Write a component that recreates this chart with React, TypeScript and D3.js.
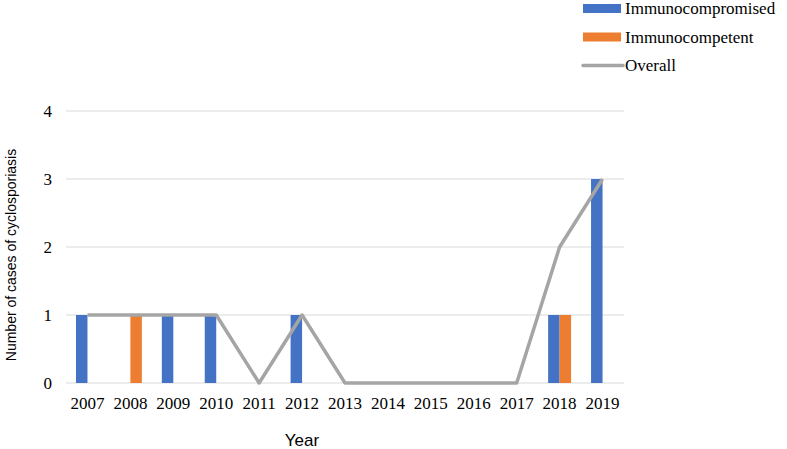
import * as d3 from "d3";
import { useEffect, useRef } from "react";

const years = ["2007", "2008", "2009", "2010", "2011", "2012", "2013", "2014", "2015", "2016", "2017", "2018", "2019"];
const immunocompromised = [1, 0, 1, 1, 0, 1, 0, 0, 0, 0, 0, 1, 3];
const immunocompetent = [0, 1, 0, 0, 0, 0, 0, 0, 0, 0, 0, 1, 0];
const overall = [1, 1, 1, 1, 0, 1, 0, 0, 0, 0, 0, 2, 3];
const yTicks = [0, 1, 2, 3, 4];

const App = () => {
  const width = 787;
  const height = 449;
  const margin = { top: 111, bottom: 66, right: 163, left: 66 };
  const svgElementRef = useRef(null);

  useEffect(() => {
    if (svgElementRef.current) {
      const svg = d3.select(svgElementRef.current);
      svg.selectAll("*").remove();

      const plotWidth = width - margin.left - margin.right;
      const plotHeight = height - margin.top - margin.bottom;
      const serif = "Liberation Serif, DejaVu Serif, serif";
      const sans = "Liberation Sans, Arial, sans-serif";
      const blue = "#4472C4";
      const orange = "#ED7D31";
      const gray = "#A5A5A5";

      const x = d3.scaleBand(years, [0, plotWidth]);
      const groupWidth = x.bandwidth() * 0.535;
      const sub = d3.scaleBand(["a", "b"], [0, groupWidth]);
      const y = d3.scaleLinear([0, 4], [plotHeight, 0]);

      const plotArea = svg
        .append("g")
        .attr("transform", `translate(${margin.left}, ${margin.top})`);

      // gridlines
      plotArea
        .append("g")
        .selectAll("line")
        .data(yTicks)
        .join("line")
        .attr("x1", 0)
        .attr("x2", plotWidth)
        .attr("y1", (d) => y(d))
        .attr("y2", (d) => y(d))
        .attr("stroke", "#D9D9D9")
        .attr("stroke-width", 1.2);

      plotArea
        .append("g")
        .selectAll("text")
        .data(yTicks)
        .join("text")
        .attr("x", -14)
        .attr("y", (d) => y(d) + 6)
        .attr("text-anchor", "end")
        .style("font-family", serif)
        .style("font-size", "17px")
        .text((d) => d);

      plotArea
        .append("g")
        .selectAll("text")
        .data(years)
        .join("text")
        .attr("x", (d) => x(d) + x.bandwidth() / 2)
        .attr("y", plotHeight + 26)
        .attr("text-anchor", "middle")
        .style("font-family", serif)
        .style("font-size", "17px")
        .text((d) => d);

      const series = [
        { key: "a", values: immunocompromised, color: blue },
        { key: "b", values: immunocompetent, color: orange },
      ];

      series.forEach((s) => {
        plotArea
          .append("g")
          .selectAll("rect")
          .data(years.map((yr, i) => ({ yr, v: s.values[i] })).filter((d) => d.v > 0))
          .join("rect")
          .attr("x", (d) => x(d.yr) + (x.bandwidth() - groupWidth) / 2 + sub(s.key))
          .attr("y", (d) => y(d.v))
          .attr("width", sub.bandwidth())
          .attr("height", (d) => plotHeight - y(d.v))
          .attr("fill", s.color);
      });

      const line = d3
        .line()
        .x((d, i) => x(years[i]) + x.bandwidth() / 2)
        .y((d) => y(d));

      plotArea
        .append("path")
        .datum(overall)
        .attr("d", line)
        .attr("fill", "none")
        .attr("stroke", gray)
        .attr("stroke-width", 3.5)
        .attr("stroke-linejoin", "round");

      // axis titles
      svg
        .append("text")
        .attr("x", 302)
        .attr("y", 446)
        .attr("text-anchor", "middle")
        .style("font-family", sans)
        .style("font-size", "17px")
        .text("Year");

      svg
        .append("text")
        .attr("transform", "translate(16, 255) rotate(-90)")
        .attr("text-anchor", "middle")
        .style("font-family", sans)
        .style("font-size", "14px")
        .text("Number of cases of cyclosporiasis");

      // legend
      const legend = svg.append("g").attr("transform", "translate(583, 0)");
      const items = [
        { name: "Immunocompromised", color: blue, type: "rect" },
        { name: "Immunocompetent", color: orange, type: "rect" },
        { name: "Overall", color: gray, type: "line" },
      ];
      items.forEach((item, i) => {
        const cy = 8.5 + i * 28.5;
        if (item.type === "rect") {
          legend
            .append("rect")
            .attr("x", 0)
            .attr("y", cy - 4.5)
            .attr("width", 38)
            .attr("height", 9)
            .attr("fill", item.color);
        } else {
          legend
            .append("line")
            .attr("x1", 0)
            .attr("x2", 40)
            .attr("y1", cy)
            .attr("y2", cy)
            .attr("stroke", item.color)
            .attr("stroke-width", 3.5)
            .attr("stroke-linecap", "round");
        }
        legend
          .append("text")
          .attr("x", 42)
          .attr("y", cy + 5.5)
          .style("font-family", serif)
          .style("font-size", "17px")
          .text(item.name);
      });
    }
  }, []);

  return (
    <svg
      width={width}
      height={height}
      ref={svgElementRef}
      style={{ position: "absolute", left: 0, top: 0, background: "white" }}
    ></svg>
  );
};

export default App;
